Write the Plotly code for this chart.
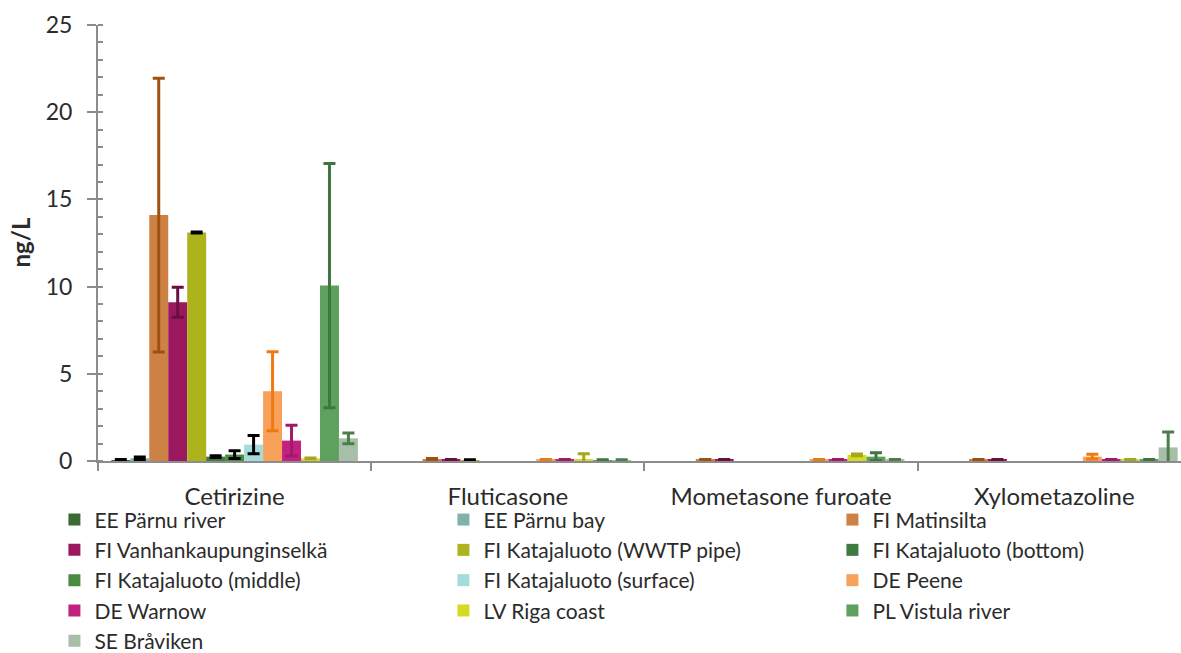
import plotly.graph_objects as go

categories = ["Cetirizine", "Fluticasone", "Mometasone furoate", "Xylometazoline"]

series_names = [
    "EE Pärnu river", "EE Pärnu bay", "FI Matinsilta",
    "FI Vanhankaupunginselkä", "FI Katajaluoto (WWTP pipe)", "FI Katajaluoto (bottom)",
    "FI Katajaluoto (middle)", "FI Katajaluoto (surface)", "DE Peene",
    "DE Warnow", "LV Riga coast", "PL Vistula river",
    "SE Bråviken",
]

# mean concentrations (ng/L) per category; None = not detected
ee_parnu_river = [0.05, None, None, None]
ee_parnu_bay = [0.15, None, None, None]
fi_matinsilta = [14.1, 0.12, 0.07, 0.07]
fi_vanhankaupunginselka = [9.1, 0.07, 0.07, 0.07]
fi_katajaluoto_wwtp = [13.1, 0.05, None, None]
fi_katajaluoto_bottom = [0.25, None, None, None]
fi_katajaluoto_middle = [0.37, None, None, None]
fi_katajaluoto_surface = [0.94, None, None, None]
de_peene = [4.0, 0.06, 0.07, 0.25]
de_warnow = [1.17, 0.06, 0.06, 0.06]
lv_riga_coast = [0.15, 0.12, 0.35, 0.06]
pl_vistula_river = [10.06, 0.05, 0.25, 0.06]
se_braviken = [1.3, 0.05, 0.06, 0.78]

# standard deviations (ng/L)
err_ee_parnu_river = [0.03, 0, 0, 0]
err_ee_parnu_bay = [0.08, 0, 0, 0]
err_fi_matinsilta = [7.85, 0.03, 0.02, 0.02]
err_fi_vanhankaupunginselka = [0.86, 0.02, 0.02, 0.02]
err_fi_katajaluoto_wwtp = [0.03, 0.02, 0, 0]
err_fi_katajaluoto_bottom = [0.05, 0, 0, 0]
err_fi_katajaluoto_middle = [0.22, 0, 0, 0]
err_fi_katajaluoto_surface = [0.52, 0, 0, 0]
err_de_peene = [2.27, 0.02, 0.02, 0.13]
err_de_warnow = [0.88, 0.02, 0.02, 0.02]
err_lv_riga_coast = [0.02, 0.3, 0.05, 0.02]
err_pl_vistula_river = [7.0, 0.02, 0.22, 0.02]
err_se_braviken = [0.31, 0.02, 0.02, 0.89]

values = [ee_parnu_river, ee_parnu_bay, fi_matinsilta, fi_vanhankaupunginselka,
          fi_katajaluoto_wwtp, fi_katajaluoto_bottom, fi_katajaluoto_middle,
          fi_katajaluoto_surface, de_peene, de_warnow, lv_riga_coast,
          pl_vistula_river, se_braviken]
errors = [err_ee_parnu_river, err_ee_parnu_bay, err_fi_matinsilta,
          err_fi_vanhankaupunginselka, err_fi_katajaluoto_wwtp,
          err_fi_katajaluoto_bottom, err_fi_katajaluoto_middle,
          err_fi_katajaluoto_surface, err_de_peene, err_de_warnow,
          err_lv_riga_coast, err_pl_vistula_river, err_se_braviken]

bar_colors = ["#3C6A34", "#80B1AC", "#CD8145", "#9B185E", "#ADB31D", "#3F7B3E",
              "#4B8A3F", "#A5DBDA", "#F7A15A", "#C1217F", "#D5DA22", "#5EA05E",
              "#A9BEA8"]
err_colors = ["#000000", "#000000", "#A0500F", "#6A0F42", "#000000", "#000000",
              "#000000", "#000000", "#F07A12", "#A3186C", "#A4A81A", "#3F7640",
              "#4B7D4B"]

FONT = "Lato"
TEXT = "#2b2b2b"
AXIS = "#8c8c8c"

fig = go.Figure()
for name, vals, errs, col, ecol in zip(series_names, values, errors, bar_colors, err_colors):
    fig.add_trace(go.Bar(
        name=name, x=categories, y=vals,
        marker=dict(color=col, line=dict(width=0)),
        error_y=dict(type="data", array=errs, visible=True, color=ecol,
                     thickness=3, width=6),
    ))

W, H = 1181, 653
ML, MR, MT, MB = 97.6, 0, 24.5, 191.5
pw = W - ML - MR
ph = H - MT - MB

fig.update_layout(
    width=W, height=H,
    margin=dict(l=ML, r=MR, t=MT, b=MB, autoexpand=False),
    barmode="group", bargap=0.0975, bargroupgap=0,
    plot_bgcolor="white", paper_bgcolor="white",
    font=dict(family=FONT, color=TEXT),
    showlegend=True,
    legend=dict(
        orientation="h", x=(54 - ML) / pw, xanchor="left",
        y=-(500 - (MT + ph)) / ph, yanchor="top",
        entrywidth=344, entrywidthmode="pixels",
        font=dict(family=FONT, size=21, color=TEXT),
        traceorder="normal", bgcolor="rgba(0,0,0,0)", borderwidth=0,
    ),
    xaxis=dict(
        type="category", range=[-0.5, 3.4635],
        showline=True, linecolor=AXIS, linewidth=2,
        ticks="outside", tickson="boundaries", ticklen=8, tickwidth=2,
        tickcolor=AXIS, showgrid=False, zeroline=False,
        tickfont=dict(family=FONT, size=24, color=TEXT),
        ticklabelstandoff=13,
    ),
    yaxis=dict(
        range=[0, 25], dtick=5, tick0=0,
        showline=True, linecolor=AXIS, linewidth=2,
        ticks="outside", ticklen=9, tickwidth=2, tickcolor=AXIS,
        minor=dict(dtick=1, ticks="inside", ticklen=5, tickwidth=1.5,
                   tickcolor=AXIS, showgrid=False),
        showgrid=False, zeroline=False,
        tickfont=dict(family=FONT, size=23, color=TEXT),
        ticklabelstandoff=10,
    ),
    annotations=[dict(
        text="<b>ng/L</b>", textangle=-90, showarrow=False,
        xref="paper", yref="paper",
        x=(20 - ML) / pw, y=(MT + ph - 242) / ph,
        xanchor="center", yanchor="middle",
        font=dict(family=FONT, size=24, color=TEXT),
    )],
)

fig.write_html("out.html")
